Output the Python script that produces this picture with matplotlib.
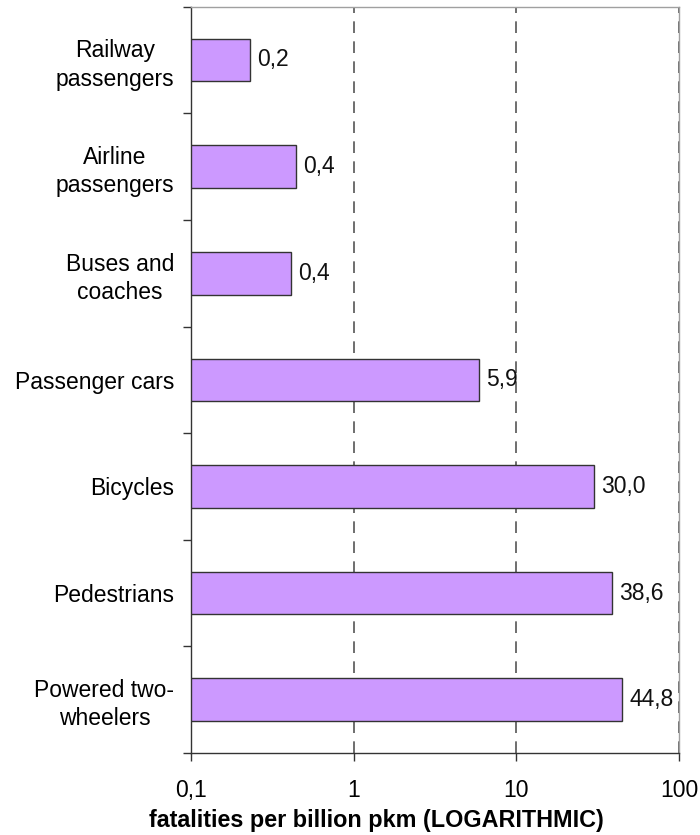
"""Fatality rates per billion passenger-km by transport mode, log scale."""

import numpy as np
import matplotlib.pyplot as plt
from matplotlib.ticker import FixedLocator, FuncFormatter

plt.rcParams['font.family'] = ['Liberation Sans', 'DejaVu Sans']

modes = ['Railway\npassengers', 'Airline\npassengers', 'Buses and\ncoaches',
         'Passenger cars', 'Bicycles', 'Pedestrians', 'Powered two-\nwheelers']
rates = [0.23, 0.44, 0.41, 5.9, 30.0, 38.6, 44.8]
xticks = [0.1, 1, 10, 100]
xtick_labels = ['0,1', '1', '10', '100']

XMIN = 0.1


def comma(v, decimals=1):
    return f'{v:.{decimals}f}'.replace('.', ',')


fig = plt.figure(figsize=(7, 8.35), dpi=100)
ax = fig.add_axes([0.2729, 0.0982, 0.6971, 0.8938])

pos = np.arange(len(modes))
ax.barh(pos, np.array(rates) - XMIN, height=0.4, left=XMIN,
        color='#cc99ff', edgecolor='#333333', linewidth=1.0, zorder=3)

ax.set_xscale('log')
ax.set_xlim(XMIN, 100)
ax.set_ylim(len(modes) - 0.5, -0.5)

# value labels just past each bar end
for p, v in zip(pos, rates):
    ax.annotate(comma(v), (v, p), xytext=(5, 0),
                textcoords='offset points', va='center', ha='left',
                fontsize=16.5, color='#111111')

ax.xaxis.set_major_locator(FixedLocator(xticks))
ax.xaxis.set_major_formatter(FuncFormatter(
    lambda x, _: dict(zip(xticks, xtick_labels)).get(x, '')))
ax.xaxis.set_minor_locator(FixedLocator([]))
ax.tick_params(axis='x', which='major', direction='out', length=6,
               width=1, color='#333333', labelsize=16.5, pad=13)
ax.grid(axis='x', which='major', linestyle=(0, (7, 5)), color='#555555',
        linewidth=1.2, zorder=1)

# category names, ticks only on the boundaries between them
ax.set_yticks(pos)
ax.set_yticklabels(modes, ha='right', multialignment='center',
                   fontsize=16.5, linespacing=1.28)
ax.tick_params(axis='y', which='major', length=0, pad=12)
ax.set_yticks(np.arange(-0.5, len(modes), 1), minor=True)
ax.tick_params(axis='y', which='minor', direction='out', length=6,
               width=1, color='#333333')

for side in ('left', 'bottom'):
    ax.spines[side].set_color('#333333')
    ax.spines[side].set_linewidth(1.0)
for side in ('top', 'right'):
    ax.spines[side].set_color('#a0a0a0')
    ax.spines[side].set_linewidth(1.0)

fig.text(0.537, 0.0095, 'fatalities per billion pkm (LOGARITHMIC)',
         ha='center', va='baseline', fontsize=16.8, fontweight='bold')

fig.savefig('out.png', dpi=100)
